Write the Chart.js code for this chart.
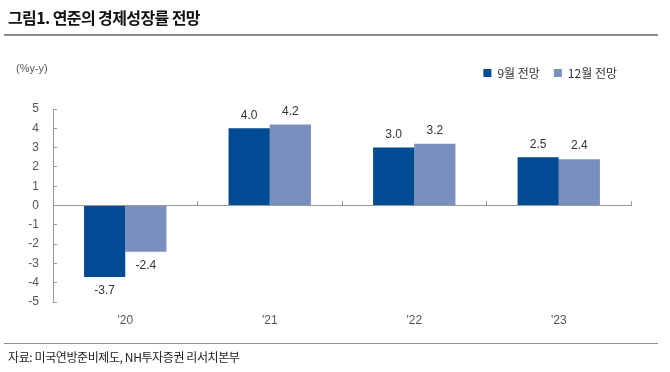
<!DOCTYPE html>
<html><head><meta charset="utf-8">
<script src="https://cdn.jsdelivr.net/npm/chart.js@4"></script>
<style>
html,body{margin:0;padding:0;background:#fff;}
#wrap{position:relative;width:670px;height:372px;overflow:hidden;font-family:"Noto Sans CJK KR","Liberation Sans",sans-serif;}
#title{position:absolute;left:8px;top:5px;font-size:16px;font-weight:bold;color:#111;letter-spacing:-0.6px;white-space:nowrap;}
#line1{position:absolute;left:4px;top:34px;width:654px;height:2px;background:#8c8c8c;}
#line2{position:absolute;left:4px;top:343px;width:654px;height:1px;background:#8c8c8c;}
#src{position:absolute;left:8px;top:348px;font-size:12px;color:#222;letter-spacing:-0.4px;white-space:nowrap;}
#unit{position:absolute;left:16px;top:62px;font-size:11px;color:#555;font-family:"Liberation Sans",sans-serif;}
#c{position:absolute;left:0;top:0;}
</style></head>
<body><div id="wrap">
<canvas id="c" width="670" height="372"></canvas>
<div id="title">그림1. 연준의 경제성장률 전망</div>
<div id="line1"></div>
<div id="unit">(%y-y)</div>
<div id="line2"></div>
<div id="src">자료: 미국연방준비제도, NH투자증권 리서치본부</div>
</div>
<script>
const categories = ["'20", "'21", "'22", "'23"];
const sepForecast = [-3.7, 4.0, 3.0, 2.5];
const decForecast = [-2.4, 4.2, 3.2, 2.4];
const seriesNames = ["9월 전망", "12월 전망"];
const yTicks = [-5, -4, -3, -2, -1, 0, 1, 2, 3, 4, 5];

const valueLabels = {
  id: 'valueLabels',
  afterDatasetsDraw(chart) {
    const ctx = chart.ctx;
    ctx.save();
    ctx.font = '12px "Liberation Sans", Arial, sans-serif';
    ctx.fillStyle = '#333';
    ctx.textAlign = 'center';
    chart.data.datasets.forEach((ds, di) => {
      const meta = chart.getDatasetMeta(di);
      meta.data.forEach((bar, i) => {
        const v = ds.data[i];
        const txt = v.toFixed(1);
        if (v >= 0) { ctx.textBaseline = 'bottom'; ctx.fillText(txt, bar.x, bar.y - 7); }
        else { ctx.textBaseline = 'top'; ctx.fillText(txt, bar.x, bar.y + 8); }
      });
    });
    ctx.restore();
  }
};

const legendSpace = {
  id: 'legendSpace',
  beforeInit(chart) {
    const orig = chart.legend.fit;
    chart.legend.fit = function () { orig.call(this); this.height += 20; };
  }
};

new Chart(document.getElementById('c'), {
  type: 'bar',
  data: {
    labels: categories,
    datasets: [
      { label: seriesNames[0], data: sepForecast, backgroundColor: '#004b93', categoryPercentage: 0.57, barPercentage: 1.0, xAxisID: 'x' },
      { label: seriesNames[1], data: decForecast, backgroundColor: '#7b8fbf', categoryPercentage: 0.57, barPercentage: 1.0, xAxisID: 'x' }
    ]
  },
  options: {
    responsive: false,
    animation: false,
    layout: { padding: { left: 0, right: 39, top: 53, bottom: 40 } },
    plugins: {
      tooltip: { enabled: false },
      legend: {
        position: 'top', align: 'end',
        labels: { boxWidth: 8, boxHeight: 8, padding: 14, color: '#333',
          font: { size: 12, family: '"Noto Sans CJK KR", sans-serif' } }
      }
    },
    scales: {
      x: {
        type: 'category',
        position: 'bottom',
        grid: { display: false },
        border: { display: false },
        ticks: { color: '#555', padding: 3, font: { size: 12, family: '"Liberation Sans", Arial, sans-serif' } },
        afterFit: s => { s.height = 30; }
      },
      x0: {
        type: 'category',
        labels: categories,
        position: { y: 0 },
        offset: true,
        grid: { drawOnChartArea: false, drawTicks: true, tickLength: -5, offset: true, color: '#999' },
        border: { display: true, color: '#999', width: 1 },
        ticks: { display: false }
      },
      y: {
        min: -5, max: 5,
        position: 'left',
        afterBuildTicks: s => { s.ticks = yTicks.map(v => ({ value: v })); },
        grid: { drawOnChartArea: false, drawTicks: true, tickLength: -4, color: '#999' },
        border: { display: true, color: '#999' },
        ticks: { color: '#555', padding: 18, font: { size: 12, family: '"Liberation Sans", Arial, sans-serif' } },
        afterFit: s => { s.width = 53; }
      }
    }
  },
  plugins: [valueLabels, legendSpace]
});
</script>
</body></html>
